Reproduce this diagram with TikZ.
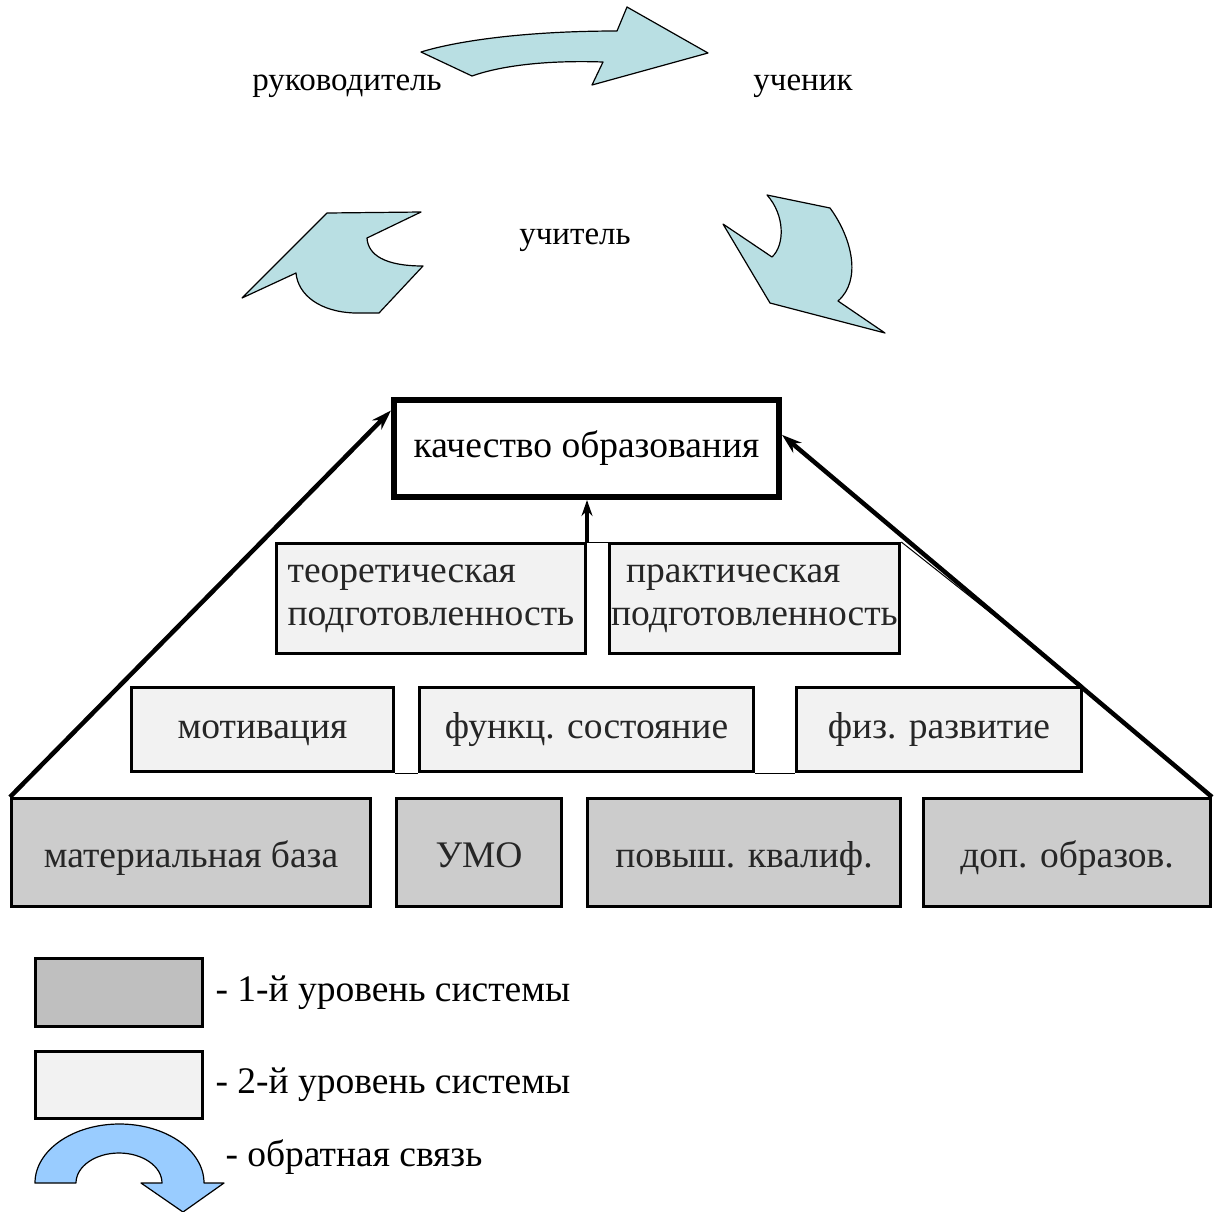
\documentclass[tikz,border=0pt]{standalone}
\usepackage{fontspec}
\setmainfont{Liberation Serif}
\usetikzlibrary{arrows.meta,positioning}

\definecolor{arrowcyan}{RGB}{185,223,227}
\definecolor{feedblue}{RGB}{153,204,255}

\tikzset{
  boxfont/.style={font=\fontsize{37.5}{43}\selectfont},
  oneline/.style={text height=26pt, text depth=8pt},
  lvlone/.style={draw, line width=3pt, fill=black!20, text=black!85, boxfont, text height=36pt, text depth=6pt, minimum height=108pt, inner sep=2pt},
  lvltwo/.style={draw, line width=3pt, fill=black!5, text=black!85, boxfont, inner sep=2pt},
  toplabel/.style={font=\fontsize{33}{38}\selectfont},
  pyrline/.style={line width=4.5pt, -{Stealth[length=20pt,width=13pt]}},
  thinline/.style={line width=1pt},
  blockarrow/.style={draw, line width=1.2pt, fill=arrowcyan, line join=round}
}

\begin{document}
\begin{tikzpicture}[x=1pt,y=1pt,yscale=-1,xscale=1]
\useasboundingbox (0,0) rectangle (1218,1211);

            %Labels
            \node[toplabel] (ruk) at (347,86) {руководитель};
            \node[toplabel] (uch) at (803,86) {ученик};
            \node[toplabel] (teach) at (575,240) {учитель};

            %Shape: Curved arrow top
            \draw[blockarrow] (421,52) .. controls (460,40) and (530,31) .. (617,31) -- (627,7) -- (708,53) -- (592,85) -- (603,62) .. controls (545,60) and (500,66) .. (472,76) -- cycle ;
            %Shape: Curved arrow left
            \draw[blockarrow] (327,213) -- (421,212) -- (367,238) .. controls (368,255) and (385,266) .. (423,266) -- (379,313) -- (355,313) .. controls (320,312) and (298,295) .. (296,273) -- (242,298) -- cycle ;
            %Shape: Curved arrow right
            \draw[blockarrow] (767,195) -- (830,208) .. controls (852,238) and (862,280) .. (838,301) -- (885,333) -- (770,303) -- (723,224) -- (772,257) .. controls (785,245) and (785,215) .. cycle ;

            %Top of the pyramid
            \node[draw, line width=6pt, boxfont, minimum width=385pt, minimum height=97pt] (qual) at (586.5,448.5) {качество образования};

            %Third tier
            \node[lvltwo, align=left, minimum width=309pt, minimum height=110pt] (teor) at (431,598.5) {теоретическая\\подготовленность};
            \node[lvltwo, align=left, minimum width=286pt, minimum height=110pt] (prakt) at (754.5,598.5) {\hspace*{15pt}практическая\\подготовленность};

            %Second tier
            \node[lvltwo, oneline, minimum width=262pt, minimum height=84pt] (motiv) at (262.5,729.5) {мотивация};
            \node[lvltwo, oneline, minimum width=334pt, minimum height=84pt] (funk) at (586.5,729.5) {функц. состояние};
            \node[lvltwo, oneline, minimum width=285pt, minimum height=84pt] (fiz) at (939,729.5) {физ. развитие};

            %First tier
            \node[lvlone, minimum width=359pt] (mat) at (191,852.5) {материальная база};
            \node[lvlone, minimum width=165pt] (umo) at (479,852.5) {УМО};
            \node[lvlone, minimum width=313pt] (povysh) at (744,852.5) {повыш. квалиф.};
            \node[lvlone, minimum width=287pt] (dop) at (1067,852.5) {доп. образов.};

            %Connectors
            \draw[thinline] (teor.north east) -- (prakt.north west) ;
            \draw[thinline] (motiv.south east) -- (funk.south west) ;
            \draw[thinline] (funk.south east) -- (fiz.south west) ;
            \draw[thinline] (prakt.north east) -- (fiz.north east) ;
            \draw[pyrline] (mat.north west) -- (qual.169) ;
            \draw[pyrline] (dop.north east) -- (qual.4) ;
            \draw[line width=3.5pt, -{Stealth[length=16pt,width=11pt]}] (teor.north east) -- (teor.north east |- qual.south) ;

            %Legend
            \node[lvlone, fill=black!25, minimum width=167pt, minimum height=68pt] (legone) at (119,992.5) {};
            \node[lvltwo, minimum width=167pt, minimum height=67pt] (legtwo) at (119,1085) {};
            \node[boxfont, right=8pt of legone] (legonetxt) {- 1-й уровень системы};
            \node[boxfont, right=8pt of legtwo] (legtwotxt) {- 2-й уровень системы};
            %Shape: U-turn arrow
            \draw[line width=1.2pt, fill=feedblue, line join=round] (35,1183) arc[start angle=180, end angle=360, x radius=84.5, y radius=59] -- (224,1183) -- (183,1212) -- (141,1183) -- (162,1183) arc[start angle=360, end angle=180, x radius=43, y radius=30] -- cycle ;
            \node[boxfont, anchor=west] (feedtxt) at (222,1157) {- обратная связь};

\end{tikzpicture}
\end{document}
